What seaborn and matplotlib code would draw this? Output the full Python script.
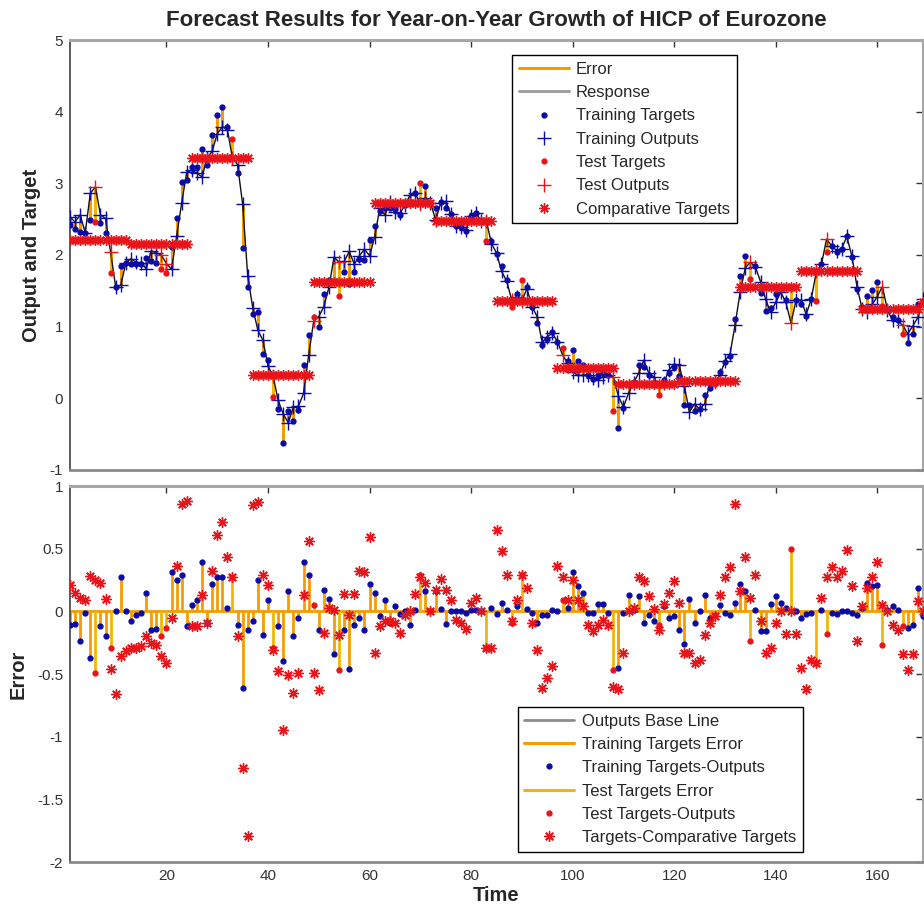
import numpy as np
import matplotlib
matplotlib.use("Agg")
import matplotlib.pyplot as plt
from matplotlib.lines import Line2D
import seaborn as sns

# monthly year-on-year HICP growth, index 1..169
targets = [2.42, 2.36, 2.32, 2.30, 2.49, 2.46, 2.44, 2.31, 1.75, 1.55,
           1.85, 1.89, 1.87, 1.87, 1.88, 1.96, 1.91, 1.89, 1.80, 1.75,
           2.11, 2.52, 3.02, 3.04, 3.23, 3.23, 3.48, 3.26, 3.67, 3.96,
           4.06, 3.78, 3.62, 3.15, 2.10, 1.56, 1.18, 1.20, 0.62, 0.54,
           0.02, -0.15, -0.62, -0.18, -0.32, -0.16, 0.46, 0.89, 1.13, 0.99,
           1.45, 1.65, 1.63, 1.43, 1.76, 1.59, 1.76, 1.94, 1.93, 2.21,
           2.40, 2.61, 2.65, 2.65, 2.64, 2.56, 2.70, 2.73, 2.87, 3.00,
           2.96, 2.73, 2.65, 2.74, 2.65, 2.57, 2.41, 2.39, 2.34, 2.55,
           2.59, 2.48, 2.19, 2.19, 2.01, 1.84, 1.65, 1.28, 1.45, 1.65,
           1.55, 1.27, 1.05, 0.75, 0.83, 0.92, 0.79, 0.70, 0.52, 0.68,
           0.52, 0.47, 0.32, 0.27, 0.32, 0.36, 0.32, -0.17, -0.42, -0.13,
           0.20, 0.23, 0.47, 0.44, 0.32, 0.22, 0.05, 0.26, 0.35, 0.44,
           0.31, -0.09, -0.09, -0.17, -0.15, 0.05, 0.15, 0.20, 0.37, 0.51,
           0.59, 1.10, 1.71, 1.98, 1.66, 1.84, 1.47, 1.22, 1.26, 1.46,
           1.55, 1.37, 1.55, 1.37, 1.32, 1.15, 1.38, 1.36, 1.88, 2.04,
           2.12, 2.04, 2.09, 2.26, 1.97, 1.53, 1.28, 1.43, 1.51, 1.63,
           1.29, 1.24, 1.13, 1.09, 0.90, 0.77, 0.90, 1.32, 1.35]

# targets - outputs
errors = [-0.11, -0.10, -0.24, -0.01, -0.37, -0.49, -0.12, -0.20, -0.29, 0.00,
          0.27, 0.00, -0.08, -0.03, -0.01, 0.15, -0.15, -0.14, -0.20, -0.13,
          0.31, 0.25, 0.29, -0.12, 0.05, 0.09, 0.39, -0.09, 0.22, 0.27,
          0.27, 0.03, 0.27, -0.11, -0.61, -0.15, -0.08, 0.25, -0.19, 0.09,
          -0.29, -0.12, -0.40, 0.16, -0.20, -0.05, 0.39, 0.29, 0.05, -0.15,
          0.17, 0.10, -0.34, -0.47, -0.15, -0.46, -0.11, -0.05, -0.15, 0.22,
          0.15, -0.04, 0.09, -0.09, 0.04, -0.02, 0.00, -0.11, 0.01, 0.29,
          0.16, 0.00, 0.16, 0.02, -0.10, 0.00, 0.00, 0.00, -0.01, 0.01,
          0.01, 0.00, -0.29, 0.03, -0.02, 0.07, 0.01, -0.09, 0.04, 0.29,
          0.02, -0.01, -0.09, -0.03, -0.03, 0.01, 0.00, 0.09, 0.03, 0.31,
          0.20, 0.15, -0.01, -0.01, 0.06, 0.06, -0.01, -0.47, -0.45, -0.01,
          0.13, 0.01, 0.12, -0.09, -0.03, -0.08, -0.11, 0.04, -0.05, -0.04,
          -0.15, -0.26, 0.10, -0.09, 0.00, 0.13, -0.05, -0.03, 0.05, -0.01,
          -0.03, 0.07, 0.22, 0.16, -0.24, 0.01, -0.16, -0.16, 0.06, 0.12,
          0.07, 0.03, 0.50, 0.00, -0.05, -0.02, -0.01, -0.41, 0.01, -0.18,
          -0.01, -0.02, 0.00, 0.00, -0.01, -0.03, 0.03, 0.23, 0.20, 0.21,
          -0.27, 0.01, 0.04, 0.01, -0.12, -0.13, -0.11, 0.19, -0.04]

# yearly comparative targets (12 months each, last one partial)
comp_years = [2.21, 2.16, 3.35, 0.33, 1.62, 2.73, 2.48, 1.36, 0.43, 0.20,
              0.24, 1.55, 1.77, 1.24, 1.35]

test_idx = [6, 9, 19, 20, 33, 41, 49, 54, 70, 83, 88, 90, 98, 108, 117,
            128, 135, 143, 148, 150, 161, 165]

t = np.arange(1, len(targets) + 1)
targets = np.array(targets)
errors = np.array(errors)
outputs = targets - errors
comparative = np.repeat(comp_years, 12)[:len(t)]
comp_diff = targets - comparative
is_test = np.isin(t, test_idx)
tr = ~is_test

sns.set_style('white')
plt.rcParams['font.family'] = ['Liberation Sans', 'DejaVu Sans']
plt.rcParams['axes.unicode_minus'] = False

ORANGE = '#f59d00'
YELLOW = '#f2b705'
BLUE = '#0a0aa8'
RED = '#e8141a'
STAR = (8, 2, 0)
STAR_MS = 7.5
STAR_MEW = 1.0

fig = plt.figure(figsize=(9.24, 9.09), dpi=100)
ax1 = fig.add_axes([70 / 924, 1 - 470 / 909, 853 / 924, 430 / 909])
ax2 = fig.add_axes([70 / 924, 1 - 862 / 909, 853 / 924, 376 / 909])

# --- top: response ---
ax1.vlines(t[tr], targets[tr], outputs[tr], color=ORANGE, lw=2.2, zorder=1)
ax1.vlines(t[is_test], targets[is_test], outputs[is_test], color=YELLOW, lw=2.2, zorder=1)
sns.lineplot(x=t, y=outputs, color='#111111', lw=1.0, ax=ax1, zorder=2)
ax1.plot(t[tr], targets[tr], '.', color=BLUE, ms=7, zorder=3)
ax1.plot(t[tr], outputs[tr], '+', color=BLUE, ms=10, mew=1.0, zorder=3)
ax1.plot(t[is_test], targets[is_test], '.', color=RED, ms=7, zorder=4)
ax1.plot(t[is_test], outputs[is_test], '+', color=RED, ms=10, mew=1.0, zorder=4)
ax1.plot(t, comparative, ls='none', marker=STAR, color=RED, ms=STAR_MS,
         mew=STAR_MEW, zorder=5)

ax1.set_xlim(1, 169)
ax1.set_ylim(-1, 5)
ax1.set_xticks(np.arange(20, 161, 20))
ax1.set_xticklabels([])
ax1.set_yticks(np.arange(-1, 6, 1))
ax1.set_ylabel('Output and Target', fontsize=14.5, fontweight='bold', labelpad=6)
ax1.set_title('Forecast Results for Year-on-Year Growth of HICP of Eurozone',
              fontsize=16, fontweight='bold', pad=10)

leg_kw = dict(borderaxespad=0, fontsize=12, frameon=True, fancybox=False,
              edgecolor='black', framealpha=1, handlelength=3.0,
              borderpad=0.4, labelspacing=0.5, handletextpad=0.45)

h1 = [Line2D([], [], color=ORANGE, lw=2.2),
      Line2D([], [], color='#a0a0a0', lw=2.2),
      Line2D([], [], ls='none', marker='.', color=BLUE, ms=7),
      Line2D([], [], ls='none', marker='+', color=BLUE, ms=10),
      Line2D([], [], ls='none', marker='.', color=RED, ms=7),
      Line2D([], [], ls='none', marker='+', color=RED, ms=10),
      Line2D([], [], ls='none', marker=STAR, color=RED, ms=STAR_MS, mew=STAR_MEW)]
l1 = ['Error', 'Response', 'Training Targets', 'Training Outputs',
      'Test Targets', 'Test Outputs', 'Comparative Targets']
leg1 = ax1.legend(h1, l1, loc='upper left', bbox_to_anchor=(0.518, 0.965), **leg_kw)
leg1.get_frame().set_linewidth(1.0)

# --- bottom: errors ---
ax2.axhline(0, color='#8c8c8c', lw=1.0, zorder=1)
ax2.axhline(0, color=ORANGE, lw=2.0, zorder=1)
ax2.vlines(t[tr], 0, errors[tr], color=ORANGE, lw=2.0, zorder=2)
ax2.vlines(t[is_test], 0, errors[is_test], color=YELLOW, lw=2.0, zorder=2)
ax2.plot(t[tr], errors[tr], '.', color=BLUE, ms=7, zorder=3)
ax2.plot(t[is_test], errors[is_test], '.', color=RED, ms=7, zorder=4)
ax2.plot(t, comp_diff, ls='none', marker=STAR, color=RED, ms=STAR_MS,
         mew=STAR_MEW, zorder=5)

ax2.set_xlim(1, 169)
ax2.set_ylim(-2, 1)
ax2.set_xticks(np.arange(20, 161, 20))
ax2.set_yticks([-2, -1.5, -1, -0.5, 0, 0.5, 1])
ax2.set_yticklabels(['-2', '-1.5', '-1', '-0.5', '0', '0.5', '1'])
ax2.set_ylabel('Error', fontsize=14.5, fontweight='bold', labelpad=7)
ax2.set_xlabel('Time', fontsize=14.5, fontweight='bold', labelpad=2)

h2 = [Line2D([], [], color='#8c8c8c', lw=2.0),
      Line2D([], [], color=ORANGE, lw=2.2),
      Line2D([], [], ls='none', marker='.', color=BLUE, ms=7),
      Line2D([], [], color=YELLOW, lw=2.2),
      Line2D([], [], ls='none', marker='.', color=RED, ms=7),
      Line2D([], [], ls='none', marker=STAR, color=RED, ms=STAR_MS, mew=STAR_MEW)]
l2 = ['Outputs Base Line', 'Training Targets Error', 'Training Targets-Outputs',
      'Test Targets Error', 'Test Targets-Outputs', 'Targets-Comparative Targets']
leg2 = ax2.legend(h2, l2, loc='lower left', bbox_to_anchor=(0.525, 0.027), **leg_kw)
leg2.get_frame().set_linewidth(1.0)

for ax in (ax1, ax2):
    ax.tick_params(direction='in', length=5, width=1, top=True, right=True,
                   labelsize=11, colors='#333333', pad=5)
    for side in ('left', 'bottom'):
        ax.spines[side].set_color('#404040')
        ax.spines[side].set_linewidth(1.2)
    for side in ('top', 'right'):
        ax.spines[side].set_color('#a6a6a6')
        ax.spines[side].set_linewidth(2.2)
    ax.spines['bottom'].set_color('#8a8a8a')
    ax.spines['bottom'].set_linewidth(2.0)
    ax.grid(False)

fig.savefig('out.png', dpi=100)
